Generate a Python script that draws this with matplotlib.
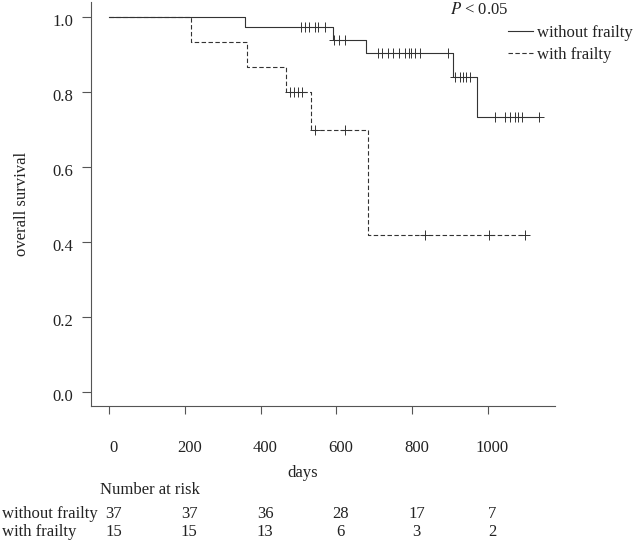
import matplotlib
matplotlib.use('Agg')
import matplotlib.pyplot as plt
import matplotlib.transforms as mtransforms
from matplotlib.lines import Line2D
import numpy as np

plt.rcParams['font.family'] = ['Liberation Serif', 'DejaVu Serif']
plt.rcParams['mathtext.fontset'] = 'stix'
plt.rcParams['font.size'] = 12

# without frailty (n = 37)
nofrail_event_t = [360, 592, 677, 908, 971]
nofrail_surv = [0.973, 0.940, 0.905, 0.840, 0.733]
nofrail_censor_t = [507, 518, 529, 543, 552, 570, 595, 607, 623,
                    710, 720, 735, 750, 765, 780, 792, 798, 807, 821,
                    895, 913, 925, 934, 943, 952,
                    1018, 1045, 1058, 1071, 1080, 1091, 1134]

# with frailty (n = 15)
frail_event_t = [216, 363, 467, 532, 684]
frail_surv = [0.933, 0.867, 0.800, 0.700, 0.420]
frail_censor_t = [478, 488, 499, 510, 543, 624, 834, 1004, 1098]

risk_times = [0, 200, 400, 600, 800, 1000]
risk_nofrail = [37, 37, 36, 28, 17, 7]
risk_frail = [15, 15, 13, 6, 3, 2]

x_ticks = [0, 200, 400, 600, 800, 1000]
y_ticks = [0.0, 0.2, 0.4, 0.6, 0.8, 1.0]

line_col = '#333333'
axis_col = '#555555'
txt_col = '#222222'

W, H = 633, 541
fig = plt.figure(figsize=(W / 100, H / 100), dpi=100)
ax = fig.add_axes([91 / W, (H - 406) / H, (555 - 91) / W, (406 - 2) / H])


def surv_at(t, ev_t, surv):
    idx = np.searchsorted(ev_t, t, side='right')
    return 1.0 if idx == 0 else surv[idx - 1]


def draw_curve(ev_t, surv, cens_t, ls):
    end_t = max(cens_t)
    xs = [0] + ev_t + [end_t]
    ys = [1.0] + surv + [surv[-1]]
    ax.step(xs, ys, where='post', color=line_col, lw=0.8, linestyle=ls)
    cy = [surv_at(t, ev_t, surv) for t in cens_t]
    ax.plot(cens_t, cy, linestyle='none', marker='+', ms=7.5, mew=0.7, color=line_col)


draw_curve(nofrail_event_t, nofrail_surv, nofrail_censor_t, '-')
draw_curve(frail_event_t, frail_surv, frail_censor_t, (0, (4, 2.2)))

ax.set_xlim(-47.5, 1177)
ax.set_ylim(-0.0373, 1.04)
for s in ['top', 'right']:
    ax.spines[s].set_visible(False)
for s in ['left', 'bottom']:
    ax.spines[s].set_color(axis_col)
    ax.spines[s].set_linewidth(0.8)

ax.set_xticks(x_ticks)
ax.set_xticklabels([str(v) for v in x_ticks])
ax.set_yticks(y_ticks)
ax.set_yticklabels(['%.1f' % v for v in y_ticks])
ax.tick_params(axis='x', length=5.8, width=0.8, color=axis_col, pad=18.5, labelcolor=txt_col, labelsize=12)
ax.tick_params(axis='y', length=6.5, width=0.8, color=axis_col, pad=6.5, labelcolor=txt_col, labelsize=12)

shift_x = mtransforms.ScaledTranslation(4.5 / 100, 0, fig.dpi_scale_trans)
for lab in ax.get_xticklabels():
    lab.set_transform(lab.get_transform() + shift_x)
shift_y = mtransforms.ScaledTranslation(0, -3 / 100, fig.dpi_scale_trans)
for lab in ax.get_yticklabels():
    lab.set_transform(lab.get_transform() + shift_y)

fig.text(303 / W, 1 - 473 / H, 'days', ha='center', va='center', color=txt_col)
fig.text(22 / W, 1 - 204 / H, 'overall survival', rotation=90, ha='center', va='center', color=txt_col)
fig.text(479.5 / W, 1 - 10 / H, r'$\it{P}$ < 0.05', ha='center', va='center', color=txt_col)

handles = [Line2D([], [], color=line_col, lw=0.8, linestyle='-'),
           Line2D([], [], color=line_col, lw=0.8, linestyle=(0, (4, 2.2)))]
ax.legend(handles, ['without frailty', 'with frailty'], loc='upper left',
          bbox_to_anchor=(508 / W, 1 - 25 / H), bbox_transform=fig.transFigure,
          frameon=False, borderpad=0, borderaxespad=0, handlelength=1.5,
          handletextpad=0.25, labelspacing=0.38, labelcolor=txt_col)

# number at risk table
trans = mtransforms.blended_transform_factory(ax.transData, fig.transFigure) + shift_x
fig.text(100 / W, 1 - 490 / H, 'Number at risk', ha='left', va='center', color=txt_col)
fig.text(2 / W, 1 - 514 / H, 'without frailty', ha='left', va='center', color=txt_col)
fig.text(2 / W, 1 - 532 / H, 'with frailty', ha='left', va='center', color=txt_col)
for t, n1, n2 in zip(risk_times, risk_nofrail, risk_frail):
    ax.text(t, 1 - 514 / H, str(n1), transform=trans, ha='center', va='center', color=txt_col, clip_on=False)
    ax.text(t, 1 - 532 / H, str(n2), transform=trans, ha='center', va='center', color=txt_col, clip_on=False)

fig.savefig('out.png', dpi=100)
